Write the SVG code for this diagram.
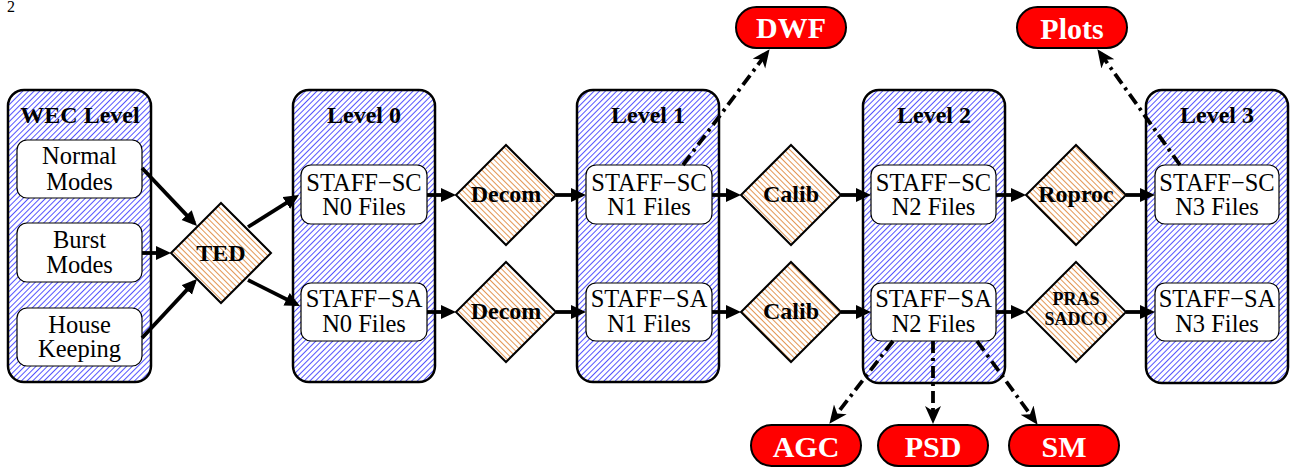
<svg xmlns="http://www.w3.org/2000/svg" width="1292" height="470" viewBox="0 0 1292 470">
<defs>
<pattern id="blueHatch" patternUnits="userSpaceOnUse" width="4" height="10" patternTransform="rotate(45)">
<rect width="4" height="10" fill="#ffffff"/>
<rect width="1" height="10" fill="#5555ff"/>
</pattern>
<pattern id="orangeHatch" patternUnits="userSpaceOnUse" width="4" height="10" patternTransform="rotate(-45)">
<rect width="4" height="10" fill="#ffffff"/>
<rect width="0.9" height="10" fill="#e08a40"/>
</pattern>
<marker id="arrow" markerUnits="userSpaceOnUse" markerWidth="18" markerHeight="16" refX="11" refY="7" orient="auto">
<path d="M0,0 L15,7 L0,14 z" fill="#000"/>
</marker>
<marker id="stealth" markerUnits="userSpaceOnUse" markerWidth="20" markerHeight="18" refX="13" refY="8" orient="auto">
<path d="M0,0 L18,8 L0,16 L5,8 z" fill="#000"/>
</marker>
</defs>
<style>
.level{fill:url(#blueHatch);stroke:#000;stroke-width:2.5}
.inner{fill:#fff;stroke:#000;stroke-width:1.2}
.proc{fill:url(#orangeHatch);stroke:#000;stroke-width:2}
.out{fill:#ff0000;stroke:#000;stroke-width:2}
.t{font-family:"Liberation Serif","Times New Roman",serif;font-size:24.5px;fill:#000;text-anchor:middle}
.b{font-weight:bold;font-size:24px}
.w{font-family:"Liberation Serif","Times New Roman",serif;font-size:30px;font-weight:bold;fill:#fff;text-anchor:middle}
.s{font-size:18px}
.solid{stroke:#000;stroke-width:3.8;fill:none;marker-end:url(#arrow)}
.dash{stroke:#000;stroke-width:3.8;fill:none;stroke-dasharray:12 5 3 5;marker-end:url(#stealth)}
</style>
<rect width="1292" height="470" fill="#fff"/>
<text x="7" y="12" style="font-family:'Liberation Serif',serif;font-size:16px;fill:#000">2</text>

<g id="wec-level">
<rect class="level" x="8" y="90" width="143" height="292" rx="16"/>
<text class="t b" x="80" y="123">WEC Level</text>
</g>
<g id="normal-modes">
<rect class="inner" x="17" y="140" width="125" height="58" rx="10"/>
<text class="t" x="79.5" y="164">Normal</text>
<text class="t" x="79.5" y="190">Modes</text>
</g>
<g id="burst-modes">
<rect class="inner" x="17" y="223" width="125" height="59" rx="10"/>
<text class="t" x="79.5" y="248">Burst</text>
<text class="t" x="79.5" y="273">Modes</text>
</g>
<g id="house-keeping">
<rect class="inner" x="17" y="308" width="125" height="58" rx="10"/>
<text class="t" x="79.5" y="333">House</text>
<text class="t" x="79.5" y="357">Keeping</text>
</g>

<g id="level0">
<rect class="level" x="293" y="90" width="142" height="292" rx="16"/>
<text class="t b" x="364" y="123">Level 0</text>
</g>
<g id="sc-n0">
<rect class="inner" x="301" y="165" width="126" height="59" rx="10"/>
<text class="t" x="364" y="191">STAFF−SC</text>
<text class="t" x="364" y="215">N0 Files</text>
</g>
<g id="sa-n0">
<rect class="inner" x="301" y="283" width="126" height="58" rx="10"/>
<text class="t" x="364" y="307">STAFF−SA</text>
<text class="t" x="364" y="332">N0 Files</text>
</g>

<g id="level1">
<rect class="level" x="577" y="90" width="142" height="292" rx="16"/>
<text class="t b" x="648" y="123">Level 1</text>
</g>
<g id="sc-n1">
<rect class="inner" x="586" y="165" width="126" height="59" rx="10"/>
<text class="t" x="649" y="191">STAFF−SC</text>
<text class="t" x="649" y="215">N1 Files</text>
</g>
<g id="sa-n1">
<rect class="inner" x="586" y="283" width="126" height="58" rx="10"/>
<text class="t" x="649" y="307">STAFF−SA</text>
<text class="t" x="649" y="332">N1 Files</text>
</g>

<g id="level2">
<rect class="level" x="863" y="90" width="142" height="293" rx="16"/>
<text class="t b" x="934" y="123">Level 2</text>
</g>
<g id="sc-n2">
<rect class="inner" x="871" y="165" width="125" height="59" rx="10"/>
<text class="t" x="933.5" y="191">STAFF−SC</text>
<text class="t" x="933.5" y="215">N2 Files</text>
</g>
<g id="sa-n2">
<rect class="inner" x="871" y="283" width="125" height="58" rx="10"/>
<text class="t" x="933.5" y="307">STAFF−SA</text>
<text class="t" x="933.5" y="332">N2 Files</text>
</g>

<g id="level3">
<rect class="level" x="1146" y="90" width="142" height="293" rx="16"/>
<text class="t b" x="1217" y="123">Level 3</text>
</g>
<g id="sc-n3">
<rect class="inner" x="1155" y="165" width="124" height="59" rx="10"/>
<text class="t" x="1217" y="191">STAFF−SC</text>
<text class="t" x="1217" y="215">N3 Files</text>
</g>
<g id="sa-n3">
<rect class="inner" x="1155" y="283" width="124" height="58" rx="10"/>
<text class="t" x="1217" y="307">STAFF−SA</text>
<text class="t" x="1217" y="332">N3 Files</text>
</g>

<g id="ted">
<path class="proc" d="M221,203 L271,253 L221,303 L171,253 z"/>
<text class="t b" x="221" y="261">TED</text>
</g>
<g id="decom-sc">
<path class="proc" d="M506,145 L556,195 L506,245 L456,195 z"/>
<text class="t b" x="506" y="202">Decom</text>
</g>
<g id="decom-sa">
<path class="proc" d="M506,262 L556,312 L506,362 L456,312 z"/>
<text class="t b" x="506" y="319">Decom</text>
</g>
<g id="calib-sc">
<path class="proc" d="M791,145 L841,195 L791,245 L741,195 z"/>
<text class="t b" x="791" y="202">Calib</text>
</g>
<g id="calib-sa">
<path class="proc" d="M791,262 L841,312 L791,362 L741,312 z"/>
<text class="t b" x="791" y="319">Calib</text>
</g>
<g id="roproc">
<path class="proc" d="M1076,145 L1126,195 L1076,245 L1026,195 z"/>
<text class="t b" x="1076" y="202">Roproc</text>
</g>
<g id="pras-sadco">
<path class="proc" d="M1076,262 L1126,312 L1076,362 L1026,312 z"/>
<text class="t b s" x="1076" y="305">PRAS</text>
<text class="t b s" x="1076" y="325">SADCO</text>
</g>

<g id="dwf">
<rect class="out" x="736" y="7" width="110" height="41" rx="20.5"/>
<text class="w" x="791" y="38">DWF</text>
</g>
<g id="plots">
<rect class="out" x="1017" y="7" width="110" height="41" rx="20.5"/>
<text class="w" x="1072" y="39">Plots</text>
</g>
<g id="agc">
<rect class="out" x="751" y="425" width="110" height="41" rx="20.5"/>
<text class="w" x="806" y="457">AGC</text>
</g>
<g id="psd">
<rect class="out" x="878" y="425" width="110" height="41" rx="20.5"/>
<text class="w" x="933" y="457">PSD</text>
</g>
<g id="sm">
<rect class="out" x="1009" y="425" width="110" height="41" rx="20.5"/>
<text class="w" x="1064" y="457">SM</text>
</g>

<g id="connectors">
<path class="solid" d="M142,168 L194.2,223.1"/>
<path class="solid" d="M142,253 L167,253"/>
<path class="solid" d="M142,338 L194.3,281.9"/>
<path class="solid" d="M248,227 L295.6,197.1"/>
<path class="solid" d="M248,280 L296.4,304.2"/>
<path class="solid" d="M427,195 L452,195"/>
<path class="solid" d="M556,195 L582,195"/>
<path class="solid" d="M712,195 L737,195"/>
<path class="solid" d="M841,195 L867,195"/>
<path class="solid" d="M996,195 L1022,195"/>
<path class="solid" d="M1126,195 L1151,195"/>
<path class="solid" d="M427,312 L452,312"/>
<path class="solid" d="M556,312 L582,312"/>
<path class="solid" d="M712,312 L737,312"/>
<path class="solid" d="M841,312 L867,312"/>
<path class="solid" d="M996,312 L1022,312"/>
<path class="solid" d="M1126,312 L1151,312"/>
<path class="dash" d="M683,165 L766.6,53.2"/>
<path class="dash" d="M1180,165 L1100.3,53.3"/>
<path class="dash" d="M893,341 L832.4,419.8"/>
<path class="dash" d="M933,341 L933,419"/>
<path class="dash" d="M977,341 L1034.7,420.7"/>
</g>
</svg>
